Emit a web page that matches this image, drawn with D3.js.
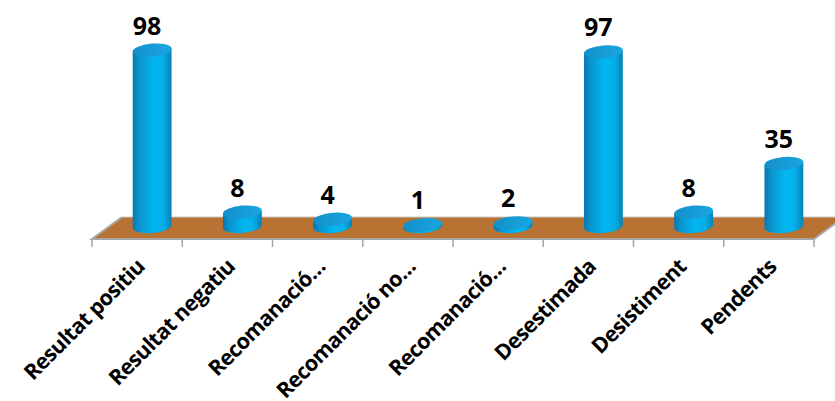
<!DOCTYPE html>
<html>
<head>
<meta charset="utf-8">
<script src="https://cdn.jsdelivr.net/npm/d3@7"></script>
<style>
  body { margin: 0; background: #ffffff; }
  svg { display: block; }
</style>
</head>
<body>
<div id="chart"></div>
<script>
"use strict";

// data
var categories = ["Resultat positiu", "Resultat negatiu", "Recomanació…", "Recomanació no…",
                  "Recomanació…", "Desestimada", "Desistiment", "Pendents"];
var values = [98, 8, 4, 1, 2, 97, 8, 35];

var width = 835, height = 401;
var floorFrontY = 239,
    depthX = 30, depthY = -22,
    cylRx = 19.5, cylRy = 6.5, tilt = -5;

var svg = d3.select("#chart").append("svg")
    .attr("width", width)
    .attr("height", height);

var defs = svg.append("defs");
var sideGrad = defs.append("linearGradient").attr("id", "side")
    .attr("x1", "0%").attr("x2", "100%").attr("y1", "0%").attr("y2", "0%");
[["0%", "#0a78ab"], ["18%", "#0b95cf"], ["55%", "#02b7f1"], ["78%", "#05afe8"], ["100%", "#0781b6"]]
  .forEach(function(s){ sideGrad.append("stop").attr("offset", s[0]).attr("stop-color", s[1]); });
var topGrad = defs.append("linearGradient").attr("id", "top")
    .attr("x1", "0%").attr("x2", "100%").attr("y1", "0%").attr("y2", "0%");
[["0%", "#1490cb"], ["100%", "#19a6df"]]
  .forEach(function(s){ topGrad.append("stop").attr("offset", s[0]).attr("stop-color", s[1]); });

// scales
var x = d3.scaleBand().domain(d3.range(categories.length)).range([92, 814]).padding(0);
var h = d3.scaleLinear().domain([0, 100]).range([0, 180]);
var baseY = floorFrontY + depthY / 2 - 1.5;

// floor
var x0 = x.range()[0], x1 = x.range()[1];
svg.append("polygon")
    .attr("points", [[x0, floorFrontY], [x1, floorFrontY], [x1 + depthX, floorFrontY + depthY], [x0 + depthX, floorFrontY + depthY]].join(" "))
    .attr("fill", "#b87333")
    .attr("stroke", "#c9c9c9")
    .attr("stroke-width", 1);
svg.append("path")
    .attr("d", "M" + (x0 + depthX) + "," + (floorFrontY + depthY) + "L" + x0 + "," + floorFrontY + "L" + x1 + "," + floorFrontY + "L" + (x1 + depthX) + "," + (floorFrontY + depthY))
    .attr("fill", "none")
    .attr("stroke", "#a6a6a6")
    .attr("stroke-width", 2);

// ticks
svg.selectAll("line.tick")
    .data(d3.range(categories.length + 1))
  .enter().append("line")
    .attr("class", "tick")
    .attr("x1", function(i){ return x0 + i * x.bandwidth(); })
    .attr("x2", function(i){ return x0 + i * x.bandwidth(); })
    .attr("y1", floorFrontY)
    .attr("y2", floorFrontY + 8)
    .attr("stroke", "#a6a6a6")
    .attr("stroke-width", 1.5);

// cylinders
var ex = cylRx * Math.cos(tilt * Math.PI / 180),
    ey = cylRx * Math.sin(tilt * Math.PI / 180);

var bars = svg.selectAll("g.bar")
    .data(values)
  .enter().append("g")
    .attr("class", "bar")
    .attr("transform", function(d, i){ return "translate(" + (x(i) + x.bandwidth() / 2 + depthX / 2) + "," + baseY + ")"; });

bars.append("path")
    .attr("d", function(d){
      var t = -h(d);
      return "M" + (-ex) + "," + (t - ey) +
        "L" + (-ex) + "," + (-ey) +
        "A" + cylRx + "," + cylRy + " " + tilt + " 0 0 " + ex + "," + ey +
        "L" + ex + "," + (t + ey) + "Z";
    })
    .attr("fill", "url(#side)");

bars.append("ellipse")
    .attr("cx", 0)
    .attr("cy", 0)
    .attr("rx", cylRx)
    .attr("ry", cylRy)
    .attr("transform", function(d){ return "translate(0," + (-h(d)) + ") rotate(" + tilt + ")"; })
    .attr("fill", "url(#top)");

// value labels
bars.append("text")
    .attr("x", -5)
    .attr("y", function(d){ return -h(d) - cylRy - 9; })
    .attr("text-anchor", "middle")
    .style("font-family", "'Open Sans', sans-serif")
    .style("font-weight", "bold")
    .style("font-size", "25px")
    .text(function(d){ return d; });

// category labels
svg.selectAll("text.cat")
    .data(categories)
  .enter().append("text")
    .attr("class", "cat")
    .attr("text-anchor", "end")
    .attr("transform", function(d, i){ return "translate(" + (x(i) + x.bandwidth() / 2 + 9) + "," + 268 + ") rotate(-45)"; })
    .style("font-family", "'Open Sans', sans-serif")
    .style("font-weight", "bold")
    .style("font-size", "21.5px")
    .style("letter-spacing", "-0.6px")
    .text(function(d){ return d; });
</script>
</body>
</html>
